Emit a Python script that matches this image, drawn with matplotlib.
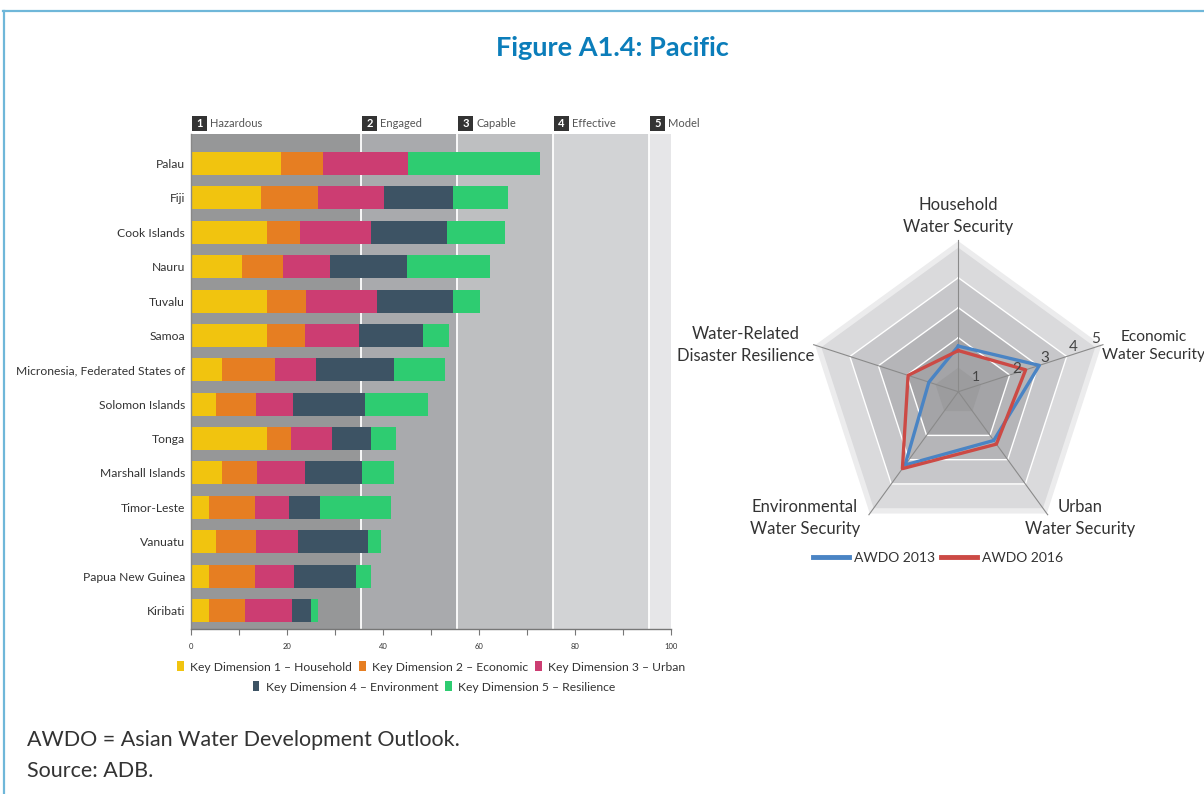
import numpy as np
import matplotlib
matplotlib.use("Agg")
import matplotlib.pyplot as plt
from matplotlib.patches import Patch, Rectangle
from matplotlib.lines import Line2D
import matplotlib.transforms as mtransforms

plt.rcParams['font.family'] = ['Lato', 'DejaVu Sans']

# ---------------- data ----------------
countries = ["Palau", "Fiji", "Cook Islands", "Nauru", "Tuvalu", "Samoa",
             "Micronesia, Federated States of", "Solomon Islands", "Tonga",
             "Marshall Islands", "Timor-Leste", "Vanuatu", "Papua New Guinea",
             "Kiribati"]
kd1_household = [18.7, 14.6, 15.8, 10.6, 15.8, 15.8, 6.4, 5.2, 15.8, 6.4, 3.7, 5.2, 3.7, 3.7]
kd2_economic = [8.8, 11.9, 6.9, 8.6, 8.2, 8.0, 11.1, 8.3, 5.0, 7.3, 9.6, 8.3, 9.6, 7.5]
kd3_urban = [17.6, 13.6, 14.8, 9.7, 14.8, 11.2, 8.5, 7.7, 8.6, 10.1, 7.1, 8.8, 8.2, 9.8]
kd4_environment = [0.0, 14.5, 15.9, 16.1, 15.8, 13.4, 16.3, 15.1, 8.1, 11.8, 6.5, 14.6, 12.9, 4.0]
kd5_resilience = [27.7, 11.5, 12.1, 17.4, 5.7, 5.4, 10.7, 13.1, 5.2, 6.7, 14.8, 2.7, 3.1, 1.4]
kd_names = ["Key Dimension 1 \u2013 Household", "Key Dimension 2 \u2013 Economic",
            "Key Dimension 3 \u2013 Urban", "Key Dimension 4 \u2013 Environment",
            "Key Dimension 5 \u2013 Resilience"]
kd_colors = ["#f1c40f", "#e67e22", "#cc3d72", "#3d5364", "#2ecc71"]

stage_numbers = ["1", "2", "3", "4", "5"]
stage_names = ["Hazardous", "Engaged", "Capable", "Effective", "Model"]
stage_starts = [0, 35.5, 55.5, 75.5, 95.5]
stage_ends = [35.5, 55.5, 75.5, 95.5, 100]
stage_colors = ["#969798", "#a9aaad", "#bebfc1", "#d2d3d5", "#e6e6e8"]

radar_axes = ["Household\nWater Security", "Economic\nWater Security",
              "Urban\nWater Security", "Environmental\nWater Security",
              "Water-Related\nDisaster Resilience"]
awdo_2013 = [1.72, 3.04, 2.21, 3.22, 1.23]
awdo_2016 = [1.57, 2.56, 2.36, 3.37, 1.96]
ring_levels = [1, 2, 3, 4, 5]

W, H = 1204, 794
fig = plt.figure(figsize=(W / 100, H / 100), dpi=100)
fig.patch.set_facecolor("white")

def fx(px):
    return px / W

def fy(py):
    return 1 - py / H

# frame lines
fig.add_artist(Line2D([fx(3), 1], [fy(11), fy(11)], transform=fig.transFigure,
                      color="#6fb7d9", lw=1.6))
fig.add_artist(Line2D([fx(3.5), fx(3.5)], [0, fy(11)], transform=fig.transFigure,
                      color="#6fb7d9", lw=1.6))

fig.text(fx(612), fy(48), "Figure A1.4: Pacific", ha="center", va="center",
         fontsize=19.5, fontweight="bold", color="#0b7dba")

# ---------------- bar chart ----------------
ax = fig.add_axes([fx(191.3), fy(629), fx(670.7) - fx(191.3), fy(134) - fy(629)])
ax.set_xlim(0, 100)
n = len(countries)
ax.set_ylim(n - 1 + 0.538, -0.858)
for s0, s1, c in zip(stage_starts, stage_ends, stage_colors):
    ax.axvspan(s0, s1, color=c, lw=0, zorder=0)
for s in stage_starts[1:]:
    ax.axvline(s, color="white", lw=1.3, zorder=1)

ypos = np.arange(n)
left = np.zeros(n)
series = [kd1_household, kd2_economic, kd3_urban, kd4_environment, kd5_resilience]
for vals, c in zip(series, kd_colors):
    vals = np.array(vals)
    ax.barh(ypos, vals, left=left, height=0.67, color=c, lw=0, zorder=2)
    left += vals

ax.set_yticks(ypos)
ax.set_yticklabels(countries, fontsize=8.7, color="#333333")
ax.tick_params(axis="y", length=0, pad=4.5)
ax.set_xticks(range(0, 101, 10))
ax.set_xticklabels([str(v) if v % 20 == 0 else "" for v in range(0, 101, 10)],
                   fontsize=5.5, color="#333333")
ax.tick_params(axis="x", length=4, color="#777777", width=0.8, pad=6)
for sp in ["top", "right"]:
    ax.spines[sp].set_visible(False)
ax.spines["left"].set_color("#888888")
ax.spines["bottom"].set_color("#777777")
ax.spines["left"].set_linewidth(1.0)
ax.spines["bottom"].set_linewidth(1.0)

blend = mtransforms.blended_transform_factory(ax.transData, ax.transAxes)
for s, num, name in zip(stage_starts, stage_numbers, stage_names):
    ax.add_patch(Rectangle((s + 0.2, 1.006), 3.1, 0.0303, transform=blend,
                           facecolor="#333333", edgecolor="none", clip_on=False))
    ax.text(s + 0.2 + 1.55, 1.006 + 0.0151, num, transform=blend, ha="center",
            va="center", fontsize=8, fontweight="bold", color="white")
    ax.text(s + 3.9, 1.006 + 0.0151, name, transform=blend, ha="left",
            va="center", fontsize=8, color="#555555")

h1 = [Patch(facecolor=c, edgecolor="none") for c in kd_colors]
fig.legend(h1[:3], kd_names[:3], loc="center", bbox_to_anchor=(fx(431), fy(667)),
           ncol=3, frameon=False, fontsize=8.7, handlelength=0.55,
           handleheight=0.9, handletextpad=0.5, columnspacing=0.6,
           labelcolor="#333333")
fig.legend(h1[3:], kd_names[3:], loc="center", bbox_to_anchor=(fx(434), fy(687)),
           ncol=2, frameon=False, fontsize=8.7, handlelength=0.55,
           handleheight=0.9, handletextpad=0.5, columnspacing=0.6,
           labelcolor="#333333")

# ---------------- radar ----------------
cx, cy = 958.3, 391.7
rmin, rmax = 0.2, 5.5
ppu = 30.0  # pixels per unit
half = (rmax - rmin) * ppu
rax = fig.add_axes([fx(cx - half), fy(cy + half), 2 * half / W, 2 * half / H],
                   projection="polar")
rax.set_theta_offset(np.pi / 2)
rax.set_theta_direction(-1)
rax.set_ylim(rmin, rmax)
rax.set_axis_off()

theta = np.deg2rad(np.arange(0, 360, 72))
theta_c = np.append(theta, theta[0])

rax.fill(theta_c, [5.22] * 6, color="#ececed", lw=0, zorder=1)
band_cols = {5: "#dadadc", 4: "#c7c7ca", 3: "#b5b5b8", 2: "#a4a4a7", 1: "#9c9c9e"}
for lvl in sorted(ring_levels, reverse=True):
    rax.fill(theta_c, [lvl] * 6, color=band_cols[lvl], lw=0, zorder=2)
for lvl in ring_levels[1:4]:
    rax.plot(theta_c, [lvl] * 6, color="white", lw=1.0, zorder=3)
for t in theta:
    rax.plot([t, t], [rmin, 5.27], color="#8a8a8a", lw=0.8, zorder=4)

rax.plot(theta_c, awdo_2013 + awdo_2013[:1], color="#4a84c4", lw=2.4, zorder=5,
         label="AWDO 2013")
rax.plot(theta_c, awdo_2016 + awdo_2016[:1], color="#cc4a45", lw=2.4, zorder=6,
         label="AWDO 2016")

for lvl in ring_levels:
    if lvl == 1:
        rax.text(np.deg2rad(49), 0.97, "1", ha="center", va="center",
                 fontsize=10, color="#444444", zorder=7)
    else:
        rax.text(np.deg2rad(68.8), lvl + (0.3 if lvl < 5 else 0.1), str(lvl),
                 ha="center", va="center", fontsize=11, color="#444444", zorder=7)

label_pos = [(958, 216), (1154, 346), (1080, 518), (805, 518), (746, 345)]
label_size = [12, 11.2, 12, 12, 12]
for txt, (px, py), fs in zip(radar_axes, label_pos, label_size):
    fig.text(fx(px), fy(py), txt, ha="center", va="center", fontsize=fs,
             color="#333333", linespacing=1.45, multialignment="center")

rh = [Line2D([0], [0], color="#4a84c4", lw=3.5),
      Line2D([0], [0], color="#cc4a45", lw=3.5)]
fig.legend(rh, ["AWDO 2013", "AWDO 2016"], loc="center",
           bbox_to_anchor=(fx(938), fy(558)), ncol=2, frameon=False,
           fontsize=10, handlelength=2.6, handletextpad=0.35, columnspacing=0.4,
           labelcolor="#333333")

# ---------------- notes ----------------
fig.text(fx(27), fy(740), "AWDO = Asian Water Development Outlook.", ha="left",
         va="center", fontsize=15.5, color="#333333")
fig.text(fx(27), fy(771), "Source: ADB.", ha="left", va="center",
         fontsize=15.5, color="#333333")

fig.savefig("out.png", dpi=100)
